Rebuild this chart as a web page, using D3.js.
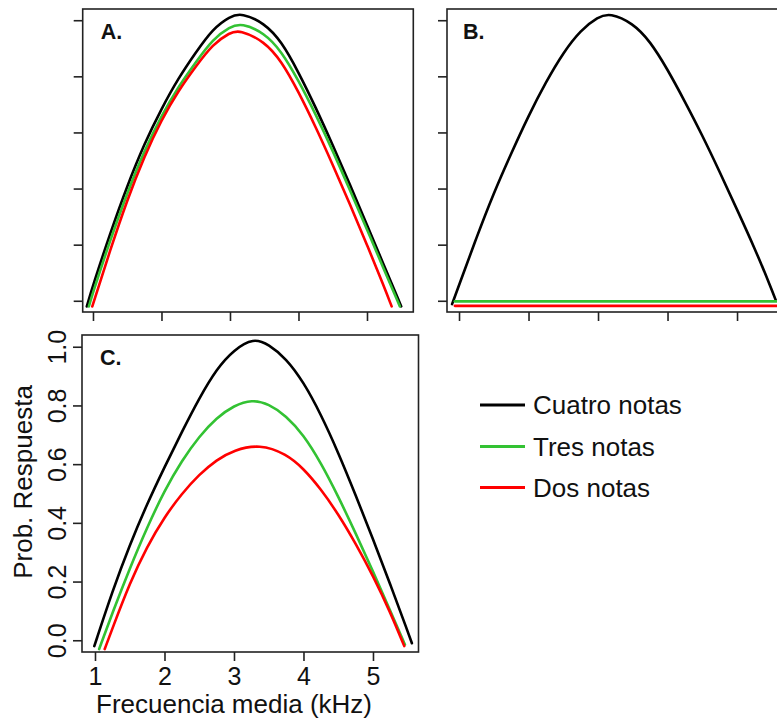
<!DOCTYPE html>
<html>
<head>
<meta charset="utf-8">
<script src="https://cdn.jsdelivr.net/npm/d3@7"></script>
<style>
  html, body { margin: 0; padding: 0; background: #ffffff; }
  svg { display: block; font-family: "Liberation Sans", Arial, sans-serif; }
</style>
</head>
<body>
<svg id="chart" width="777" height="723"></svg>
<script>
// ---------------- DATA ----------------
const seriesNames = ["Cuatro notas", "Tres notas", "Dos notas"];
const xTicks = [1, 2, 3, 4, 5];
const yTicks = [0, 0.2, 0.4, 0.6, 0.8, 1.0];
const yTickLabels = ["0.0", "0.2", "0.4", "0.6", "0.8", "1.0"];
const xTickLabels = ["1", "2", "3", "4", "5"];
const panelLabels = ["A.", "B.", "C."];
const xTitle = "Frecuencia media (kHz)";
const yTitle = "Prob. Respuesta";

// Panel A: [frecuencia, probabilidad]
const aCuatro = [[0.91,-0.02],[1.0,0.055],[1.25,0.24],[1.5,0.41],[1.75,0.56],[2.0,0.685],[2.25,0.795],[2.5,0.885],[2.75,0.97],[3.0,1.014],[3.17,1.026],[3.5,0.99],[3.75,0.925],[4.0,0.815],[4.25,0.69],[4.5,0.555],[4.75,0.415],[5.0,0.27],[5.25,0.125],[5.5,-0.02]];
const aTres   = [[0.94,-0.02],[1.0,0.03],[1.25,0.215],[1.5,0.385],[1.75,0.535],[2.0,0.66],[2.25,0.765],[2.5,0.85],[2.75,0.933],[3.0,0.977],[3.17,0.99],[3.5,0.955],[3.75,0.89],[4.0,0.785],[4.25,0.665],[4.5,0.535],[4.75,0.395],[5.0,0.255],[5.25,0.11],[5.48,-0.02]];
const aDos    = [[0.99,-0.02],[1.25,0.18],[1.5,0.36],[1.75,0.515],[2.0,0.645],[2.25,0.75],[2.5,0.835],[2.75,0.915],[3.0,0.956],[3.14,0.966],[3.5,0.925],[3.75,0.855],[4.0,0.745],[4.25,0.62],[4.5,0.485],[4.75,0.345],[5.0,0.2],[5.25,0.05],[5.36,-0.02]];

// Panel B
const bCuatro = [[0.90,-0.012],[1.0,0.055],[1.25,0.225],[1.5,0.385],[1.75,0.525],[2.0,0.66],[2.25,0.78],[2.5,0.885],[2.75,0.965],[3.0,1.012],[3.17,1.026],[3.5,0.99],[3.75,0.925],[4.0,0.825],[4.25,0.71],[4.5,0.59],[4.75,0.46],[5.0,0.325],[5.25,0.19],[5.5,0.04],[5.56,0.0]];
const bTres   = [[0.94,-0.002],[2.0,-0.002],[3.0,-0.002],[4.0,-0.002],[5.0,-0.002],[5.7,-0.002]];
const bDos    = [[0.94,-0.018],[2.0,-0.018],[3.0,-0.018],[4.0,-0.018],[5.0,-0.018],[5.7,-0.018]];

// Panel C
const cCuatro = [[0.99,-0.02],[1.25,0.167],[1.5,0.325],[1.75,0.465],[2.0,0.59],[2.25,0.71],[2.5,0.825],[2.75,0.925],[3.0,0.99],[3.28,1.03],[3.5,1.008],[3.75,0.96],[4.0,0.88],[4.25,0.77],[4.5,0.64],[4.75,0.495],[5.0,0.345],[5.25,0.19],[5.5,0.03],[5.56,-0.01]];
const cTres   = [[1.06,-0.03],[1.25,0.093],[1.5,0.245],[1.75,0.385],[2.0,0.51],[2.25,0.612],[2.5,0.695],[2.75,0.758],[3.0,0.80],[3.26,0.82],[3.5,0.805],[3.75,0.765],[4.0,0.70],[4.25,0.605],[4.5,0.49],[4.75,0.365],[5.0,0.235],[5.25,0.10],[5.46,-0.015]];
const cDos    = [[1.14,-0.03],[1.25,0.04],[1.5,0.195],[1.75,0.32],[2.0,0.42],[2.25,0.50],[2.5,0.565],[2.75,0.615],[3.0,0.648],[3.37,0.668],[3.75,0.635],[4.0,0.585],[4.25,0.515],[4.5,0.43],[4.75,0.33],[5.0,0.22],[5.25,0.095],[5.45,-0.02]];

// ---------------- STYLE / LAYOUT ----------------
const colors = ["#000000", "#33c233", "#ff0000"];
const yDomain = [-0.04, 1.04];

const panels = [
  { label: panelLabels[0], series: [aCuatro, aTres, aDos], x0: 82.7, x1: 413.3, y0: 9, y1: 312, xDomain: [0.85, 5.676], showLabels: false },
  { label: panelLabels[1], series: [bCuatro, bTres, bDos], x0: 447, x1: 782, y0: 9, y1: 312, xDomain: [0.827, 5.647], showLabels: false },
  { label: panelLabels[2], series: [cCuatro, cTres, cDos], x0: 82, x1: 418.5, y0: 335, y1: 652, xDomain: [0.813, 5.655], showLabels: true }
];

const svg = d3.select("#chart");
const tickLen = 9;
const font = "\"Liberation Sans\", Arial, sans-serif";

panels.forEach((p, i) => {
  const x = d3.scaleLinear().domain(p.xDomain).range([p.x0, p.x1]);
  const y = d3.scaleLinear().domain(yDomain).range([p.y1, p.y0]);
  const g = svg.append("g");

  const clipId = "clip" + i;
  svg.append("clipPath").attr("id", clipId)
    .append("rect").attr("x", p.x0).attr("y", p.y0)
    .attr("width", p.x1 - p.x0).attr("height", p.y1 - p.y0);

  const xAxis = d3.axisBottom(x).tickValues(xTicks).tickSizeInner(tickLen).tickSizeOuter(0)
    .tickFormat((d, k) => p.showLabels ? xTickLabels[k] : "");
  const yAxis = d3.axisLeft(y).tickValues(yTicks).tickSizeInner(tickLen).tickSizeOuter(0)
    .tickFormat((d, k) => p.showLabels ? yTickLabels[k] : "");

  const gx = g.append("g").attr("transform", `translate(0,${p.y1})`).call(xAxis);
  const gy = g.append("g").attr("transform", `translate(${p.x0},0)`).call(yAxis);
  [gx, gy].forEach(a => {
    a.select(".domain").remove();
    a.selectAll(".tick line").attr("stroke", "#222").attr("stroke-width", 1.6);
  });
  gx.selectAll(".tick text")
    .attr("font-family", font).attr("font-size", 25).attr("fill", "#111")
    .attr("dy", null)
    .attr("y", 685 - p.y1);
  gy.selectAll(".tick text")
    .attr("font-family", font).attr("font-size", 25).attr("fill", "#111")
    .attr("x", null).attr("dy", null).attr("text-anchor", "middle")
    .attr("transform", "translate(-16,0) rotate(-90)");

  const line = d3.line().x(d => x(d[0])).y(d => y(d[1])).curve(d3.curveBasis);
  const cg = g.append("g").attr("clip-path", `url(#${clipId})`);
  p.series.forEach((s, k) => {
    cg.append("path").datum(s)
      .attr("d", line)
      .attr("fill", "none")
      .attr("stroke", colors[k])
      .attr("stroke-width", 2.6)
      .attr("stroke-linejoin", "round")
      .attr("stroke-linecap", "round");
  });

  g.append("rect")
    .attr("x", p.x0).attr("y", p.y0)
    .attr("width", p.x1 - p.x0).attr("height", p.y1 - p.y0)
    .attr("fill", "none").attr("stroke", "#222").attr("stroke-width", 1.6);

  g.append("text")
    .attr("x", p.x0 + (i === 1 ? 16 : 18)).attr("y", p.y0 + 29.5)
    .attr("font-family", font).attr("font-size", 21.5).attr("font-weight", "bold")
    .attr("fill", "#111")
    .text(p.label);
});

svg.append("text")
  .attr("x", 234).attr("y", 713)
  .attr("text-anchor", "middle")
  .attr("font-family", font).attr("font-size", 26).attr("fill", "#111")
  .text(xTitle);

svg.append("text")
  .attr("transform", "translate(32,482) rotate(-90)")
  .attr("text-anchor", "middle")
  .attr("font-family", font).attr("font-size", 26).attr("fill", "#111")
  .text(yTitle);

const legendY = [405, 446.5, 487.5];
const lg = svg.append("g");
seriesNames.forEach((name, k) => {
  lg.append("line")
    .attr("x1", 480).attr("x2", 525)
    .attr("y1", legendY[k]).attr("y2", legendY[k])
    .attr("stroke", colors[k]).attr("stroke-width", 3);
  lg.append("text")
    .attr("x", 533).attr("y", legendY[k]).attr("dy", "0.35em")
    .attr("font-family", font).attr("font-size", 26).attr("fill", "#111")
    .text(name);
});
</script>
</body>
</html>
